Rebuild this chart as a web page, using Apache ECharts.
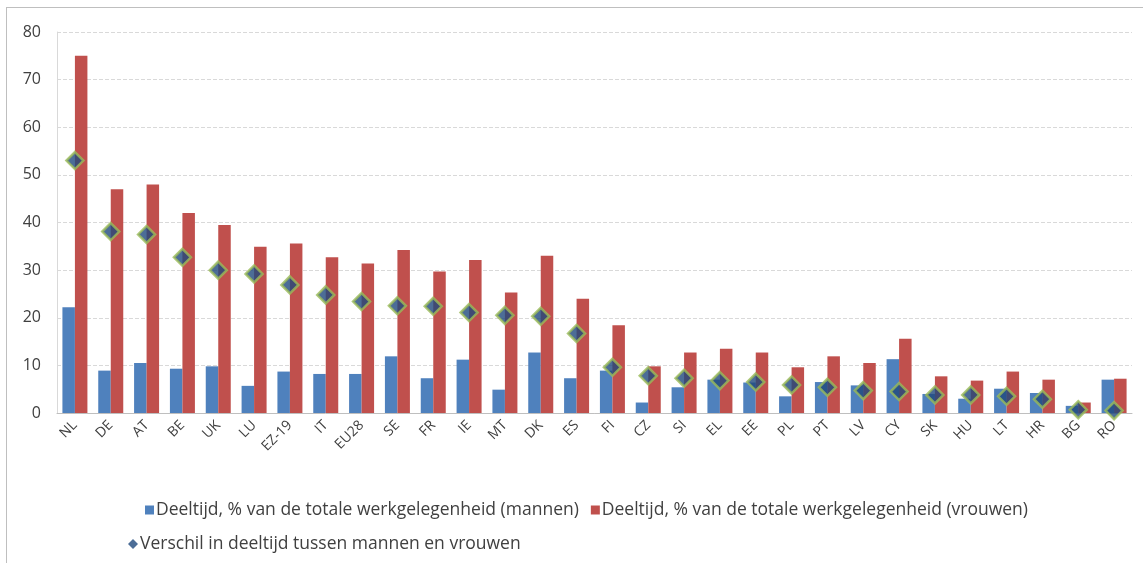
<!DOCTYPE html>
<html><head><meta charset="utf-8">
<script src="https://cdn.jsdelivr.net/npm/echarts@6/dist/echarts.min.js"></script>
<style>html,body{margin:0;padding:0;background:#fff}#c{width:1143px;height:563px}
#frame{position:absolute;left:6px;top:7px;width:1150px;height:600px;border:1px solid #bfbfbf;pointer-events:none}</style>
</head><body><div id="c"></div><div id="frame"></div>
<script>
const categories = ["NL","DE","AT","BE","UK","LU","EZ-19","IT","EU28","SE","FR","IE","MT","DK","ES","FI","CZ","SI","EL","EE","PL","PT","LV","CY","SK","HU","LT","HR","BG","RO"];
const men =   [22.2, 8.9, 10.5, 9.3, 9.8, 5.7, 8.7, 8.2, 8.2, 11.9, 7.3, 11.2, 4.9, 12.7, 7.3, 8.9, 2.2, 5.4, 7.0, 6.4, 3.5, 6.5, 5.8, 11.3, 4.0, 3.0, 5.1, 4.2, 1.5, 7.0];
const women = [75.0, 47.0, 48.0, 42.0, 39.5, 34.9, 35.6, 32.7, 31.4, 34.2, 29.7, 32.1, 25.3, 33.0, 24.0, 18.4, 9.8, 12.7, 13.5, 12.7, 9.6, 11.9, 10.5, 15.6, 7.7, 6.8, 8.7, 7.0, 2.2, 7.2];
const gap =   [53.0, 38.1, 37.5, 32.7, 30.0, 29.2, 26.9, 24.8, 23.4, 22.5, 22.4, 21.1, 20.5, 20.3, 16.7, 9.6, 7.8, 7.3, 6.8, 6.5, 5.9, 5.4, 4.7, 4.5, 3.8, 3.8, 3.5, 2.9, 0.7, 0.5];
const yTicks = {min: 0, max: 80, interval: 10};
const names = ["Deeltijd, % van de totale werkgelegenheid (mannen)", "Deeltijd, % van de totale werkgelegenheid (vrouwen)", "Verschil in deeltijd tussen mannen en vrouwen"];

const chart = echarts.init(document.getElementById('c'));
const font = "'Open Sans',sans-serif";
chart.setOption({
  animation: false,
  textStyle: {fontFamily: font},
  grid: {left: 57, right: 11, top: 32, bottom: 150, containLabel: false},
  legend: [
    {left: 140, top: 496, itemWidth: 9, itemHeight: 9, itemGap: 12, icon: 'rect',
     data: [names[0], names[1]], textStyle: {fontSize: 17.5, color: '#404040', fontFamily: font, padding: [0,0,0,-3]}},
    {left: 123, top: 530, itemWidth: 10, itemHeight: 10, itemGap: 8,
     data: [{name: names[2], icon: 'diamond', itemStyle: {borderWidth: 0}}], textStyle: {fontSize: 17.5, color: '#404040', fontFamily: font, padding: [0,0,0,-3]}}
  ],
  xAxis: {
    type: 'category', data: categories,
    axisLine: {lineStyle: {color: '#bfbfbf', width: 1}},
    axisTick: {show: false},
    axisLabel: {rotate: 45, fontSize: 14, color: '#404040', interval: 0, margin: 10, fontFamily: font}
  },
  yAxis: {
    type: 'value', min: yTicks.min, max: yTicks.max, interval: yTicks.interval,
    axisLine: {show: true, lineStyle: {color: '#d9d9d9'}},
    axisLabel: {fontSize: 16, color: '#404040', margin: 16, fontFamily: font},
    splitLine: {lineStyle: {color: '#d9d9d9', type: 'dashed'}}
  },
  series: [
    {name: names[0], type: 'bar', data: men, barWidth: 12.5, barGap: '0%', itemStyle: {color: '#4F81BD'}},
    {name: names[1], type: 'bar', data: women, barWidth: 12.5, barGap: '0%', itemStyle: {color: '#C0504D'}},
    {name: names[2], type: 'scatter', data: gap, symbol: 'diamond', symbolSize: [17, 17], z: 5,
     itemStyle: {color: '#1F497D', borderColor: '#9BBB59', borderWidth: 2.5}}
  ]
});
</script></body></html>
